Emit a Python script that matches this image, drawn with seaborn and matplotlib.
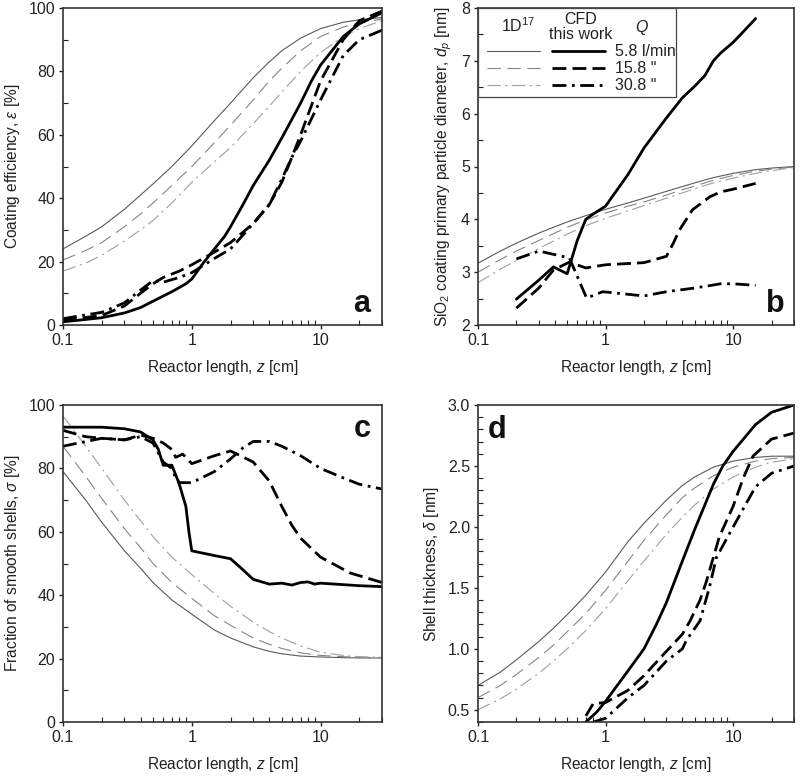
import numpy as np
import pandas as pd
import matplotlib
matplotlib.use("Agg")
import matplotlib.pyplot as plt
import seaborn as sns
from matplotlib import ticker
from matplotlib.patches import Rectangle

sns.set_style("ticks")
plt.rcParams['font.family'] = ['Liberation Sans', 'DejaVu Sans']
plt.rcParams['mathtext.fontset'] = 'custom'
plt.rcParams['mathtext.rm'] = 'Liberation Sans'
plt.rcParams['mathtext.it'] = 'Liberation Sans:italic'
plt.rcParams['mathtext.bf'] = 'Liberation Sans:bold'

# ---------------- data ----------------
flow_labels = ["5.8 l/min", '15.8 "', '30.8 "']

# 1D model grid (reactor length, cm)
z_1d = [0.1, 0.15, 0.2, 0.3, 0.4, 0.5, 0.7, 1, 1.5, 2, 3, 4, 5, 7, 10, 15, 20, 30]

# panel a: coating efficiency [%]
a_1d_58 = [24, 28, 31, 36.5, 41, 44.5, 50, 56.5, 64.5, 70, 78, 83, 86.5, 90.5, 93.5, 95.5, 96.3, 97]
a_1d_158 = [20.5, 23.5, 26, 31, 35, 38.5, 44, 50, 57.5, 63, 71, 77, 81, 86.5, 91, 94, 95.3, 96.5]
a_1d_308 = [17, 19.5, 22, 26.5, 30, 33, 38.5, 45, 51.5, 56, 63.5, 69, 73.5, 80, 86, 91, 93.5, 96]

a_cfd_58_z = [0.1, 0.2, 0.3, 0.4, 0.5, 0.7, 0.9, 1.0, 1.2, 1.5, 1.8, 2.0, 2.5, 3.0, 4.0, 5.0, 7.0, 8.5, 10, 15, 20, 30]
a_cfd_58 = [1, 2.3, 3.8, 5.5, 7.5, 10.5, 13, 14.5, 19, 24, 28, 31, 38, 44, 52, 59, 70, 77, 82, 91, 95, 98.5]
a_cfd_158_z = [0.1, 0.2, 0.3, 0.4, 0.5, 0.6, 0.8, 1.0, 1.5, 2.0, 3.0, 4.0, 5.0, 6.0, 7.0, 10, 15, 20, 30]
a_cfd_158 = [1.5, 3, 6, 10, 13, 15, 17, 19, 23, 26, 32, 38, 45, 53, 60, 77, 90, 96, 99]
a_cfd_308_z = [0.1, 0.2, 0.3, 0.4, 0.5, 0.6, 0.8, 1.0, 1.5, 2.0, 3.0, 4.0, 5.0, 6.0, 7.0, 10, 15, 20, 30]
a_cfd_308 = [2, 4, 7, 11, 14, 13.5, 15, 16.5, 21, 24, 32, 38, 46, 53, 58, 71, 85, 90, 93]

# panel b: primary particle diameter [nm]
b_1d_58 = [3.17, 3.40, 3.55, 3.74, 3.86, 3.95, 4.07, 4.19, 4.31, 4.4, 4.53, 4.62, 4.69, 4.79, 4.87, 4.94, 4.97, 5.0]
b_1d_158 = [3.0, 3.24, 3.4, 3.6, 3.74, 3.85, 3.99, 4.12, 4.25, 4.33, 4.46, 4.56, 4.63, 4.74, 4.83, 4.91, 4.95, 4.99]
b_1d_308 = [2.8, 3.06, 3.22, 3.45, 3.6, 3.72, 3.88, 4.02, 4.16, 4.26, 4.4, 4.5, 4.58, 4.69, 4.78, 4.87, 4.92, 4.98]

b_cfd_58_z = [0.2, 0.3, 0.39, 0.5, 0.53, 0.6, 0.7, 0.8, 1.0, 1.5, 2, 3, 4, 5, 6, 7, 8, 10, 12, 15]
b_cfd_58 = [2.49, 2.85, 3.1, 2.97, 3.17, 3.6, 4.0, 4.1, 4.25, 4.85, 5.35, 5.92, 6.3, 6.52, 6.72, 7.0, 7.15, 7.35, 7.55, 7.8]
b_cfd_158_z = [0.2, 0.3, 0.39, 0.52, 0.7, 1.0, 2.0, 3.0, 3.4, 3.8, 4.8, 6.6, 8, 10, 15]
b_cfd_158 = [2.32, 2.7, 3.04, 3.19, 3.08, 3.14, 3.18, 3.3, 3.55, 3.8, 4.18, 4.43, 4.52, 4.57, 4.68]
b_cfd_308_z = [0.2, 0.3, 0.52, 0.71, 0.95, 2.0, 3.0, 5.0, 8.0, 10, 15]
b_cfd_308 = [3.25, 3.4, 3.27, 2.51, 2.63, 2.55, 2.63, 2.7, 2.78, 2.78, 2.75]

# panel c: fraction of smooth shells [%]
c_1d_58 = [79, 70, 63, 54, 48.5, 44, 38.5, 34, 29, 26.5, 23.7, 22.3, 21.5, 20.8, 20.5, 20.3, 20.2, 20.2]
c_1d_158 = [87, 77.5, 70.5, 61, 55, 50, 44, 39, 33.5, 30.5, 26.5, 24.5, 23.2, 21.8, 21, 20.6, 20.4, 20.3]
c_1d_308 = [96.5, 87, 80, 70, 63.5, 58.5, 52, 46.5, 40.5, 36.5, 31.5, 28.5, 26.5, 24, 22, 21, 20.6, 20.4]

c_cfd_58_z = [0.1, 0.2, 0.3, 0.4, 0.5, 0.55, 0.6, 0.7, 0.75, 0.8, 0.9, 0.95, 1.0, 1.5, 2, 2.5, 3, 4, 5, 6, 7, 8, 9, 10, 20, 30]
c_cfd_58 = [93, 93, 92.5, 91.5, 89, 86, 81, 81, 78, 75, 68, 60, 54, 52.5, 51.5, 48, 45, 43.5, 43.8, 43.2, 44, 44.2, 43.5, 43.8, 43, 42.7]
c_cfd_158_z = [0.1, 0.15, 0.2, 0.3, 0.4, 0.5, 0.6, 0.7, 0.75, 0.85, 0.9, 1.0, 1.5, 2, 3, 4, 5, 6, 7, 10, 17, 30]
c_cfd_158 = [92, 90, 89.5, 89, 90.5, 89.5, 88, 86, 83.5, 84.5, 83.5, 81.5, 84, 85.5, 82, 76, 68, 62, 58, 52, 47, 44]
c_cfd_308_z = [0.1, 0.2, 0.3, 0.4, 0.5, 0.6, 0.7, 0.75, 0.8, 0.9, 1.0, 1.5, 2, 2.5, 3, 4, 5, 7, 10, 15, 20, 30]
c_cfd_308 = [87, 89.5, 89, 90, 88, 82, 80, 77, 75.5, 75.5, 75.5, 79, 83, 86.5, 88.5, 88.5, 87, 84, 80, 77, 75, 73.5]

# panel d: shell thickness [nm]
d_1d_58 = [0.70, 0.81, 0.91, 1.06, 1.18, 1.28, 1.44, 1.63, 1.88, 2.03, 2.22, 2.34, 2.41, 2.49, 2.54, 2.57, 2.58, 2.58]
d_1d_158 = [0.60, 0.70, 0.79, 0.93, 1.04, 1.14, 1.29, 1.48, 1.72, 1.89, 2.10, 2.24, 2.32, 2.42, 2.49, 2.54, 2.56, 2.57]
d_1d_308 = [0.50, 0.59, 0.67, 0.80, 0.91, 1.00, 1.15, 1.33, 1.56, 1.72, 1.94, 2.08, 2.18, 2.31, 2.41, 2.49, 2.53, 2.56]

d_cfd_58_z = [0.7, 0.85, 1.0, 1.5, 2.0, 2.5, 3.0, 4.0, 5.0, 7.0, 8.3, 10, 15, 20, 30]
d_cfd_58 = [0.4, 0.48, 0.57, 0.82, 1.0, 1.2, 1.38, 1.72, 1.98, 2.35, 2.5, 2.62, 2.84, 2.94, 3.0]
d_cfd_158_z = [0.7, 0.8, 1.0, 1.5, 2, 3, 4, 4.6, 5.5, 6.2, 7, 7.8, 10, 12, 14.3, 20, 30]
d_cfd_158 = [0.45, 0.55, 0.56, 0.66, 0.78, 0.98, 1.12, 1.23, 1.4, 1.56, 1.75, 1.92, 2.17, 2.4, 2.58, 2.72, 2.77]
d_cfd_308_z = [0.8, 1.0, 1.5, 2, 3, 4, 4.3, 5.5, 6.5, 7.4, 10, 15, 20, 30]
d_cfd_308 = [0.4, 0.43, 0.6, 0.7, 0.9, 1.0, 1.07, 1.23, 1.5, 1.75, 2.0, 2.33, 2.44, 2.5]

# ---------------- styles ----------------
thin_styles = [dict(color="#5a5a5a", ls="-"),
               dict(color="#858585", ls=(0, (12, 6))),
               dict(color="#a0a0a0", ls=(0, (12, 4, 2, 4)))]
thick_styles = [dict(color="black", ls="-"),
                dict(color="black", ls=(0, (5, 2.2))),
                dict(color="black", ls=(0, (5, 2, 1, 2)))]
THIN_LW = 0.8
THICK_LW = 2.0


def draw(ax, x, y, style, lw):
    df = pd.DataFrame({"z": x, "v": y})
    sns.lineplot(data=df, x="z", y="v", ax=ax, color=style["color"],
                 linestyle=style["ls"], linewidth=lw, estimator=None,
                 sort=False, legend=False)


fig = plt.figure(figsize=(8.0, 7.79), dpi=100)
W, H = 800, 779
boxes = {
    "a": (63, 8, 382, 325),
    "b": (478, 8, 794, 325),
    "c": (63, 405, 382, 722),
    "d": (478, 405, 794, 722),
}
axes = {}
for k, (l, t, r, b) in boxes.items():
    axes[k] = fig.add_axes([l / W, 1 - b / H, (r - l) / W, (b - t) / H])

panels = {
    "a": (a_1d_58, a_1d_158, a_1d_308,
          (a_cfd_58_z, a_cfd_58), (a_cfd_158_z, a_cfd_158), (a_cfd_308_z, a_cfd_308)),
    "b": (b_1d_58, b_1d_158, b_1d_308,
          (b_cfd_58_z, b_cfd_58), (b_cfd_158_z, b_cfd_158), (b_cfd_308_z, b_cfd_308)),
    "c": (c_1d_58, c_1d_158, c_1d_308,
          (c_cfd_58_z, c_cfd_58), (c_cfd_158_z, c_cfd_158), (c_cfd_308_z, c_cfd_308)),
    "d": (d_1d_58, d_1d_158, d_1d_308,
          (d_cfd_58_z, d_cfd_58), (d_cfd_158_z, d_cfd_158), (d_cfd_308_z, d_cfd_308)),
}

ylims = {"a": (0, 100), "b": (2, 8), "c": (0, 100), "d": (0.4, 3.0)}
ymajor = {"a": 20, "b": 1, "c": 20, "d": 0.5}
yminor = {"a": 10, "b": 0.5, "c": 10, "d": 0.1}
ylabels = {
    "a": r"Coating efficiency, $\varepsilon$ [%]",
    "b": r"SiO$_2$ coating primary particle diameter, $d_p$ [nm]",
    "c": r"Fraction of smooth shells, $\sigma$ [%]",
    "d": r"Shell thickness, $\delta$ [nm]",
}
letter_pos = {"a": (0.937, 0.065), "b": (0.94, 0.065), "c": (0.937, 0.925), "d": (0.06, 0.92)}

for k, ax in axes.items():
    data = panels[k]
    for i in range(3):
        draw(ax, z_1d, data[i], thin_styles[i], THIN_LW)
    for i in range(3):
        zz, vv = data[3 + i]
        draw(ax, zz, vv, thick_styles[i], THICK_LW)
    ax.set_xscale("log")
    ax.set_xlim(0.1, 30)
    ax.set_ylim(*ylims[k])
    ax.xaxis.set_major_locator(ticker.FixedLocator([0.1, 1, 10]))
    ax.xaxis.set_major_formatter(ticker.FuncFormatter(lambda v, _: f"{v:g}"))
    ax.xaxis.set_minor_locator(ticker.LogLocator(base=10, subs=np.arange(2, 10), numticks=20))
    ax.xaxis.set_minor_formatter(ticker.NullFormatter())
    ax.yaxis.set_major_locator(ticker.MultipleLocator(ymajor[k]))
    ax.yaxis.set_minor_locator(ticker.MultipleLocator(yminor[k]))
    if k == "d":
        ax.yaxis.set_major_formatter(ticker.FormatStrFormatter("%.1f"))
    ax.tick_params(which="major", direction="out", length=3.2, width=1.0,
                   labelsize=11.5, colors="#222222", pad=2.5)
    ax.tick_params(which="minor", direction="in", length=3.5, width=0.8, colors="#222222")
    for s in ax.spines.values():
        s.set_linewidth(1.2)
        s.set_color("#333333")
    ax.set_xlabel(r"Reactor length, $z$ [cm]", fontsize=11.2, color="#222222", labelpad=7)
    ax.set_ylabel(ylabels[k], fontsize=11.2, color="#222222", labelpad=5)
    ax.text(*letter_pos[k], k, transform=ax.transAxes, fontsize=22,
            fontweight="bold", ha="center", va="center", color="#111111")

# legend in panel b
axb = axes["b"]
lines = axb.get_lines()
handles = list(lines[0:3]) + list(lines[3:6])
labels = ["", "", ""] + flow_labels
leg = axb.legend(handles, labels, ncol=2, loc="upper left",
                 bbox_to_anchor=(0.03, 0.885), frameon=False, fontsize=11.5,
                 handlelength=3.3, handletextpad=0.65, columnspacing=0.1,
                 labelspacing=0.12, borderpad=0, borderaxespad=0)
for t in leg.get_texts():
    t.set_color("#222222")
axb.add_patch(Rectangle((0, 0.719), 0.627, 0.281, transform=axb.transAxes,
                        fill=False, edgecolor="#444444", linewidth=0.9, zorder=5))
axb.text(0.127, 0.944, r"1D$^{17}$", transform=axb.transAxes, ha="center",
         va="center", fontsize=11.5, color="#222222")
axb.text(0.326, 0.94, "CFD\nthis work", transform=axb.transAxes, ha="center",
         va="center", fontsize=11.5, color="#222222", linespacing=1.0)
axb.text(0.519, 0.94, r"$Q$", transform=axb.transAxes, ha="center",
         va="center", fontsize=11.5, color="#222222")

fig.savefig("out.png", dpi=100, facecolor="white")
